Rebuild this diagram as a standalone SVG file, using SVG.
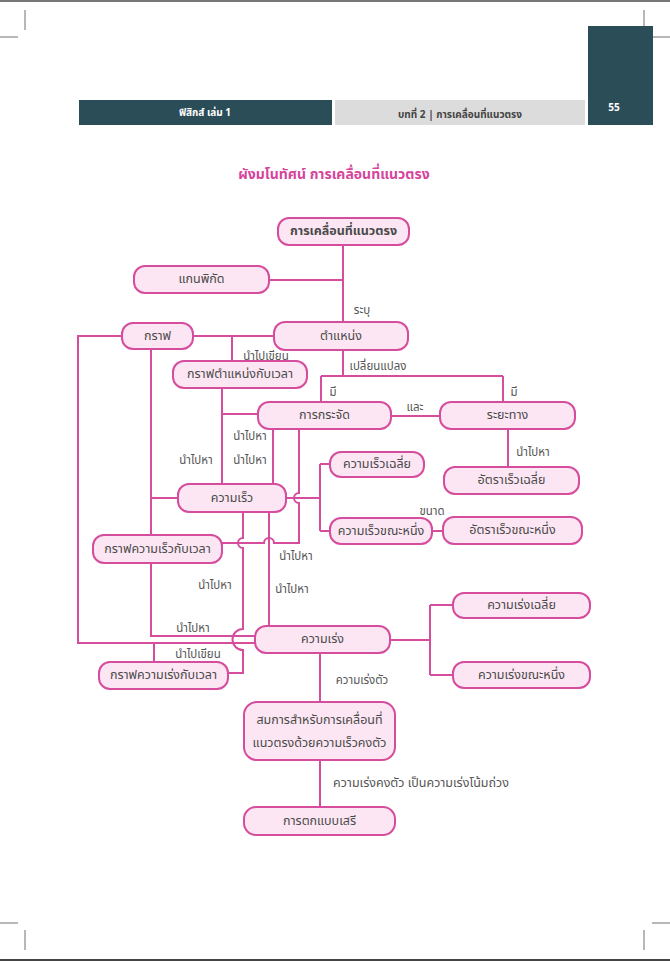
<svg xmlns="http://www.w3.org/2000/svg" width="670" height="961" viewBox="0 0 670 961">
<style>
text{font-family:"Noto Sans Thai","Noto Sans","DejaVu Sans",sans-serif;}
.node rect{fill:#fce6f3;stroke:#d54d9c;stroke-width:2;}
.nt{font-size:12.5px;fill:#4a4a4a;text-anchor:middle;dominant-baseline:central;}
.lb{font-size:11.5px;fill:#555;text-anchor:middle;dominant-baseline:central;}
.lbs{font-size:12.5px;fill:#555;text-anchor:start;dominant-baseline:central;}
.cn path{stroke:#d54d9c;stroke-width:2;fill:none;}
.crop{stroke:#888;stroke-width:1.2;}
</style>
<rect x="0" y="0" width="670" height="961" fill="#fff"/>
<line x1="0" y1="1" x2="670" y2="1" stroke="#777" stroke-width="2"/>
<line x1="0" y1="960" x2="670" y2="960" stroke="#444" stroke-width="2"/>
<g id="cropmarks" class="crop">
<line x1="25" y1="10" x2="25" y2="30"/><line x1="0" y1="37" x2="18" y2="37"/>
<line x1="644" y1="10" x2="644" y2="37"/><line x1="652" y1="37" x2="670" y2="37"/>
<line x1="0" y1="923" x2="18" y2="923"/><line x1="25" y1="930" x2="25" y2="950"/>
<line x1="652" y1="923" x2="670" y2="923"/><line x1="644" y1="930" x2="644" y2="950"/>
</g>
<g id="header">
<rect x="79" y="100" width="253" height="25" fill="#2a4d58"/>
<rect x="335" y="100" width="250" height="25" fill="#dcdcdc"/>
<rect x="588" y="26" width="65" height="99" fill="#2a4d58"/>
<text x="205" y="113" font-size="10" font-weight="bold" fill="#fff" text-anchor="middle" dominant-baseline="central">ฟิสิกส์ เล่ม 1</text>
<text x="460" y="115" font-size="10" font-weight="bold" fill="#444" text-anchor="middle" dominant-baseline="central">บทที่ 2 | การเคลื่อนที่แนวตรง</text>
<text x="614" y="108" font-size="10" font-weight="bold" fill="#fff" text-anchor="middle" dominant-baseline="central">55</text>
</g>
<text id="title" x="334" y="174" font-size="14" font-weight="bold" fill="#d6449c" text-anchor="middle" dominant-baseline="central">ผังมโนทัศน์ การเคลื่อนที่แนวตรง</text>
<g id="connectors" class="cn">
<path d="M343,245 V322 M269,280 H343"/>
<path d="M193,336 H274 M232,336 V361"/>
<path d="M122,336 H78 V643 H255 M154,643 V662"/>
<path d="M151,349 V535 M151,498 H178"/>
<path d="M151,563 V636 H255"/>
<path d="M343,350 V376 M321,376 H503 M321,376 V402 M503,376 V402"/>
<path d="M391,416 H440"/>
<path d="M508,429 V467"/>
<path d="M222,388 V484 M222,414 H258"/>
<path d="M273,429 V484"/>
<path d="M299,429 V493 A5,5 0 0,0 299,503 V543 H274 A5,5 0 0,0 264,543 H222"/>
<path d="M286,498 H320 M320,464 V531 M320,464 H330 M320,531 H330"/>
<path d="M432,531 H443"/>
<path d="M243,512 V538 A5,5 0 0,0 243,548 V629 A10.5,10.5 0 0,0 243,650 V673 H228"/>
<path d="M269,512 V626"/>
<path d="M390,640 H430 M430,605 V675 M430,605 H453 M430,675 H453"/>
<path d="M320,653 V702"/>
<path d="M320,760 V807"/>
</g>
<g id="labels">
<text class="lb" x="362" y="310">ระบุ</text>
<text class="lb" x="378" y="366">เปลี่ยนแปลง</text>
<text class="lb" x="266" y="356">นำไปเขียน</text>
<text class="lb" x="333" y="392">มี</text>
<text class="lb" x="514" y="392">มี</text>
<text class="lb" x="415" y="407">และ</text>
<text class="lb" x="250" y="436">นำไปหา</text>
<text class="lb" x="250" y="460">นำไปหา</text>
<text class="lb" x="196" y="460">นำไปหา</text>
<text class="lb" x="533" y="452">นำไปหา</text>
<text class="lb" x="432" y="511">ขนาด</text>
<text class="lb" x="296" y="556">นำไปหา</text>
<text class="lb" x="215" y="585">นำไปหา</text>
<text class="lb" x="292" y="589">นำไปหา</text>
<text class="lb" x="193" y="628">นำไปหา</text>
<text class="lb" x="198" y="654">นำไปเขียน</text>
<text class="lb" x="362" y="680">ความเร่งตัว</text>
<text class="lbs" x="333" y="783">ความเร่งคงตัว เป็นความเร่งโน้มถ่วง</text>
</g>
<g id="n1" class="node"><rect x="278" y="218" width="131" height="27" rx="11"/><text class="nt" x="343.5" y="231.5" font-weight="bold" fill="#333">การเคลื่อนที่แนวตรง</text></g>
<g id="n2" class="node"><rect x="134" y="266" width="135" height="27" rx="11"/><text class="nt" x="201.5" y="279.5">แกนพิกัด</text></g>
<g id="n3" class="node"><rect x="122" y="323" width="71" height="26" rx="11"/><text class="nt" x="157.5" y="336">กราฟ</text></g>
<g id="n4" class="node"><rect x="274" y="322" width="134" height="28" rx="11"/><text class="nt" x="341" y="336">ตำแหน่ง</text></g>
<g id="n5" class="node"><rect x="173" y="361" width="134" height="27" rx="11"/><text class="nt" x="240" y="374.5">กราฟตำแหน่งกับเวลา</text></g>
<g id="n6" class="node"><rect x="258" y="402" width="133" height="27" rx="11"/><text class="nt" x="324.5" y="415.5">การกระจัด</text></g>
<g id="n7" class="node"><rect x="440" y="402" width="135" height="27" rx="11"/><text class="nt" x="507.5" y="415.5">ระยะทาง</text></g>
<g id="n8" class="node"><rect x="330" y="452" width="94" height="25" rx="11"/><text class="nt" x="377" y="464.5">ความเร็วเฉลี่ย</text></g>
<g id="n9" class="node"><rect x="444" y="467" width="135" height="27" rx="11"/><text class="nt" x="511.5" y="480.5">อัตราเร็วเฉลี่ย</text></g>
<g id="n10" class="node"><rect x="178" y="484" width="108" height="28" rx="11"/><text class="nt" x="232" y="498">ความเร็ว</text></g>
<g id="n11" class="node"><rect x="330" y="518" width="102" height="26" rx="11"/><text class="nt" x="381" y="531">ความเร็วขณะหนึ่ง</text></g>
<g id="n12" class="node"><rect x="443" y="517" width="139" height="27" rx="11"/><text class="nt" x="512.5" y="530.5">อัตราเร็วขณะหนึ่ง</text></g>
<g id="n13" class="node"><rect x="93" y="535" width="129" height="28" rx="11"/><text class="nt" x="157.5" y="549">กราฟความเร็วกับเวลา</text></g>
<g id="n14" class="node"><rect x="255" y="626" width="135" height="27" rx="11"/><text class="nt" x="322.5" y="639.5">ความเร่ง</text></g>
<g id="n15" class="node"><rect x="453" y="593" width="137" height="25" rx="11"/><text class="nt" x="521.5" y="605.5">ความเร่งเฉลี่ย</text></g>
<g id="n16" class="node"><rect x="453" y="662" width="137" height="26" rx="11"/><text class="nt" x="521.5" y="675">ความเร่งขณะหนึ่ง</text></g>
<g id="n17" class="node"><rect x="99" y="662" width="129" height="27" rx="11"/><text class="nt" x="163.5" y="675.5">กราฟความเร่งกับเวลา</text></g>
<g id="n18" class="node"><rect x="244" y="702" width="151" height="58" rx="13"/><text class="nt" x="319.5" y="720">สมการสำหรับการเคลื่อนที่</text><text class="nt" x="319.5" y="743">แนวตรงด้วยความเร็วคงตัว</text></g>
<g id="n19" class="node"><rect x="244" y="807" width="151" height="28" rx="12"/><text class="nt" x="319.5" y="821">การตกแบบเสรี</text></g>
</svg>
